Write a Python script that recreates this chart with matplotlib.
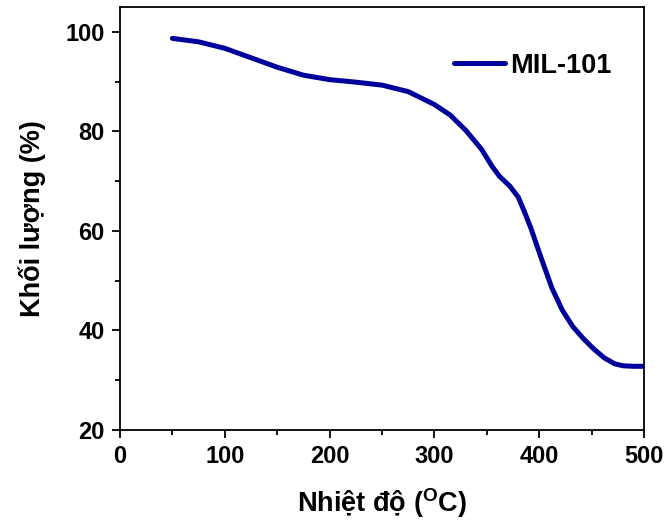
import numpy as np
import matplotlib
matplotlib.use("Agg")
import matplotlib.pyplot as plt
from matplotlib.ticker import MultipleLocator

plt.rcParams['font.family'] = ['Liberation Sans', 'DejaVu Sans']
plt.rcParams['font.weight'] = 'bold'
plt.rcParams['axes.labelweight'] = 'bold'
plt.rcParams['mathtext.fontset'] = 'custom'
plt.rcParams['mathtext.rm'] = 'Liberation Sans:bold'
plt.rcParams['mathtext.bf'] = 'Liberation Sans:bold'

# du lieu TGA doc tu hinh
nhiet_do = [50, 75, 100, 125, 150, 175, 200, 225, 250, 275, 300, 315, 330,
            345, 355, 362, 372, 380, 386, 392, 402, 412, 422, 432, 442, 452,
            462, 472, 480, 490, 500]
khoi_luong = [98.7, 98.0, 96.7, 94.8, 92.9, 91.3, 90.4, 89.9, 89.3, 88.0,
              85.4, 83.3, 80.2, 76.4, 73.0, 71.0, 69.0, 66.8, 63.8, 60.6,
              54.5, 48.6, 44.1, 40.8, 38.4, 36.3, 34.5, 33.3, 32.9, 32.8,
              32.8]

fig = plt.figure(figsize=(6.67, 5.27), dpi=100)
ax = fig.add_axes([120/667, 1 - 430/527, 524/667, 423/527])

ax.plot(nhiet_do, khoi_luong, color='#00009C', lw=3.6, label='MIL-101',
        solid_capstyle='round', solid_joinstyle='round')

ax.set_xlim(0, 500)
ax.set_ylim(20, 105)
ax.xaxis.set_major_locator(MultipleLocator(100))
ax.xaxis.set_minor_locator(MultipleLocator(50))
ax.yaxis.set_major_locator(MultipleLocator(20))
ax.yaxis.set_minor_locator(MultipleLocator(10))
ax.tick_params(which='both', direction='out', top=False, right=False,
               labelsize=17, width=1.3)
ax.tick_params(which='major', length=6, pad=5)
ax.tick_params(which='minor', length=3.5)
for s in ax.spines.values():
    s.set_linewidth(1.3)

ax.set_xlabel(r'Nhiệt độ ($\mathbf{^{O}}$C)', fontsize=19.5, labelpad=13)
ax.set_ylabel('Khối lượng (%)', fontsize=19.5, labelpad=14)

ax.legend(loc='upper right', frameon=False, fontsize=19.5, handlelength=1.9,
          handletextpad=0.2, bbox_to_anchor=(0.985, 0.95))

plt.savefig("out.png", dpi=100)
